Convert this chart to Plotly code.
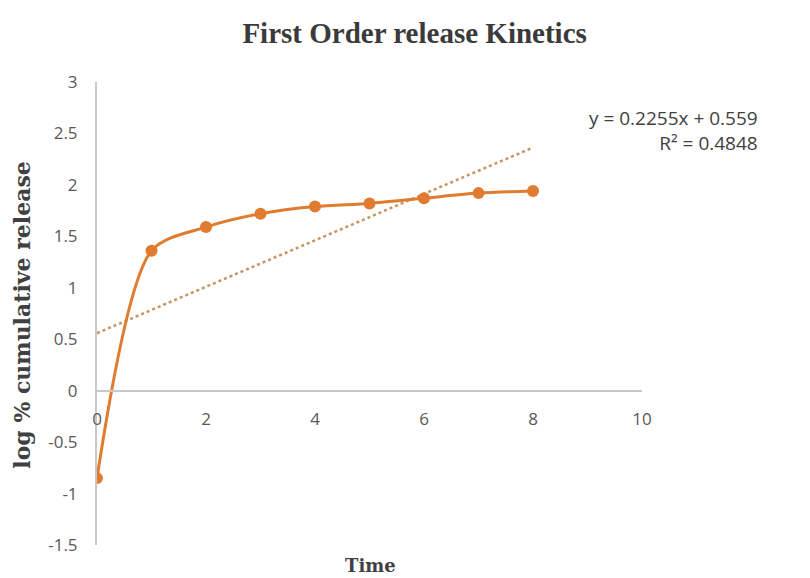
import plotly.graph_objects as go

# 데이터
time = [0, 1, 2, 3, 4, 5, 6, 7, 8]
log_release = [-0.85, 1.36, 1.59, 1.72, 1.79, 1.82, 1.87, 1.92, 1.94]

# 엑셀 추세선 계수
slope = 0.2255
intercept = 0.559
r_squared = 0.4848
trend_x = [0, 8]

y_ticks = [3, 2.5, 2, 1.5, 1, 0.5, 0, -0.5, -1, -1.5]
x_ticks = [0, 2, 4, 6, 8, 10]

ORANGE = '#E07B30'
TICK_FONT = dict(family='Open Sans, sans-serif', size=17, color='#595959')
SERIF = 'DejaVu Serif, serif'

fig = go.Figure()
fig.add_trace(go.Scatter(
    x=trend_x, y=[slope * v + intercept for v in trend_x],
    mode='lines', line=dict(color='#C69462', width=2.5, dash='dot'),
    showlegend=False, hoverinfo='skip',
))
fig.add_trace(go.Scatter(
    x=time, y=log_release,
    mode='lines+markers', line=dict(color=ORANGE, width=3, shape='spline', smoothing=0.8),
    marker=dict(color=ORANGE, size=12),
    showlegend=False,
))

# 추세선 식 (오른쪽 정렬)
fig.add_annotation(
    x=1.2165, y=0.896, xref='paper', yref='paper', showarrow=False,
    xanchor='right', yanchor='middle', align='right',
    text=f'y = {slope}x + {intercept}<br>R² = {r_squared}',
    font=dict(family=TICK_FONT['family'], size=19, color='#404040'),
)

# 축 제목은 annotation으로
fig.add_annotation(
    x=0.501, y=-0.045, xref='paper', yref='paper', showarrow=False,
    xanchor='center', yanchor='middle',
    text='<b>Time</b>', font=dict(family=SERIF, size=18, color='#404040'),
)
fig.add_annotation(
    x=-0.138, y=0.497, xref='paper', yref='paper', showarrow=False,
    xanchor='center', yanchor='middle', textangle=-90,
    text='<b>log % cumulative release</b>', font=dict(family=SERIF, size=22, color='#404040'),
)

# 브라우저 body 여백(8px) 감안한 마진
fig.update_layout(
    width=810, height=578,
    paper_bgcolor='white', plot_bgcolor='white',
    margin=dict(l=89, r=176, t=74, b=41),
    title=dict(text='<b>First Order release Kinetics</b>', x=0.502, xanchor='center', y=0.957, yanchor='middle',
               font=dict(family='Liberation Serif, serif', size=29, color='#3a3a3a')),
    xaxis=dict(
        range=[0, 10], tickvals=x_ticks, ticktext=[str(v) for v in x_ticks],
        anchor='free', position=1.5 / 4.5, showgrid=False, zeroline=False,
        showline=True, linecolor='#C8C8C8', linewidth=2,
        ticks='', ticklabelstandoff=13, tickfont=TICK_FONT,
    ),
    yaxis=dict(
        range=[-1.5, 3], tickvals=y_ticks,
        ticktext=[f'{v:g}' for v in y_ticks],
        showgrid=False, zeroline=False,
        showline=True, linecolor='#C8C8C8', linewidth=2,
        ticks='', ticklabelstandoff=14, tickfont=TICK_FONT,
    ),
)

fig.write_html('out.html')
